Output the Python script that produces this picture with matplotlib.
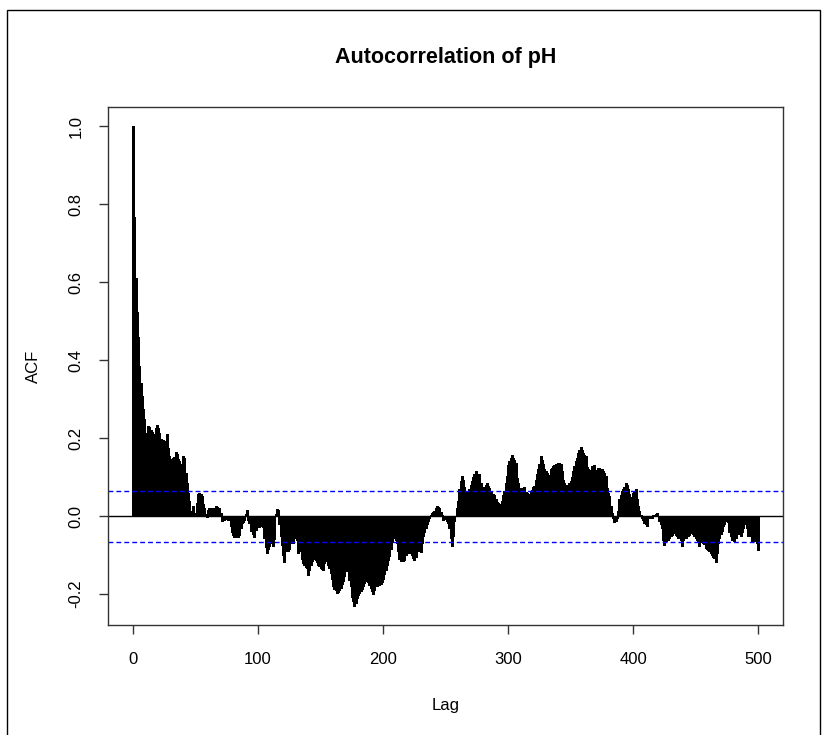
import numpy as np
import matplotlib
matplotlib.use("Agg")
import matplotlib.pyplot as plt
from matplotlib.patches import Rectangle

plt.rcParams['font.family'] = ['Liberation Sans', 'DejaVu Sans']

# ACF of pH, lags 0..500
acf_vals = [
    1.000, 0.766, 0.610, 0.523, 0.460, 0.384, 0.342, 0.307, 0.275, 0.248,
    0.212, 0.208, 0.231, 0.229, 0.222, 0.217, 0.201, 0.210, 0.225, 0.234,
    0.226, 0.212, 0.199, 0.196, 0.196, 0.192, 0.184, 0.210, 0.176, 0.154,
    0.146, 0.146, 0.150, 0.152, 0.165, 0.159, 0.146, 0.142, 0.133, 0.129,
    0.154, 0.150, 0.111, 0.086, 0.060, 0.039, 0.013, 0.000, 0.026, 0.004,
    0.008, 0.034, 0.056, 0.060, 0.058, 0.051, 0.030, 0.020, 0.005, -0.002,
    0.015, 0.020, 0.020, 0.018, 0.010, 0.022, 0.027, 0.024, 0.018, 0.020,
    0.008, -0.013, -0.006, -0.010, -0.004, -0.008, -0.009, -0.004, -0.026, -0.040,
    -0.047, -0.053, -0.053, -0.052, -0.053, -0.047, -0.030, -0.017, -0.015, -0.010,
    0.005, 0.015, -0.010, -0.017, -0.039, -0.030, -0.045, -0.053, -0.035, -0.028,
    -0.025, -0.028, -0.026, -0.022, -0.028, -0.055, -0.080, -0.094, -0.085, -0.077,
    -0.070, -0.060, -0.077, -0.058, 0.005, 0.019, 0.015, -0.020, -0.050, -0.075,
    -0.100, -0.118, -0.090, -0.082, -0.090, -0.085, -0.070, -0.065, -0.070, -0.051,
    -0.055, -0.060, -0.095, -0.081, -0.090, -0.110, -0.120, -0.125, -0.130, -0.133,
    -0.150, -0.138, -0.124, -0.115, -0.108, -0.110, -0.113, -0.118, -0.125, -0.129,
    -0.133, -0.135, -0.137, -0.120, -0.107, -0.115, -0.124, -0.133, -0.146, -0.160,
    -0.180, -0.186, -0.190, -0.197, -0.194, -0.190, -0.184, -0.175, -0.165, -0.154,
    -0.140, -0.120, -0.140, -0.163, -0.180, -0.206, -0.218, -0.231, -0.222, -0.210,
    -0.203, -0.197, -0.193, -0.186, -0.178, -0.171, -0.166, -0.163, -0.168, -0.176,
    -0.185, -0.193, -0.199, -0.190, -0.180, -0.178, -0.177, -0.176, -0.173, -0.170,
    -0.160, -0.148, -0.137, -0.125, -0.113, -0.103, -0.085, -0.066, -0.047, -0.055,
    -0.062, -0.069, -0.090, -0.111, -0.116, -0.115, -0.116, -0.112, -0.100, -0.090,
    -0.092, -0.094, -0.094, -0.100, -0.106, -0.113, -0.105, -0.085, -0.088, -0.090,
    -0.091, -0.070, -0.051, -0.040, -0.030, -0.021, -0.012, -0.004, 0.003, 0.009,
    0.011, 0.013, 0.020, 0.027, 0.024, 0.021, 0.010, 0.004, -0.009, -0.008,
    -0.006, -0.012, -0.017, -0.030, -0.055, -0.077, -0.051, -0.013, 0.000, 0.020,
    0.039, 0.069, 0.090, 0.103, 0.094, 0.075, 0.064, 0.051, 0.060, 0.069,
    0.080, 0.090, 0.100, 0.107, 0.116, 0.100, 0.105, 0.107, 0.085, 0.069,
    0.072, 0.075, 0.080, 0.084, 0.078, 0.073, 0.065, 0.056, 0.056, 0.054,
    0.043, 0.036, 0.034, 0.030, 0.026, 0.040, 0.055, 0.064, 0.085, 0.103,
    0.130, 0.141, 0.150, 0.156, 0.150, 0.143, 0.137, 0.099, 0.085, 0.073,
    0.071, 0.069, 0.072, 0.075, 0.062, 0.060, 0.056, 0.058, 0.062, 0.068,
    0.075, 0.077, 0.092, 0.107, 0.120, 0.133, 0.153, 0.145, 0.133, 0.122,
    0.115, 0.111, 0.094, 0.105, 0.120, 0.124, 0.129, 0.131, 0.133, 0.135,
    0.137, 0.136, 0.133, 0.115, 0.094, 0.085, 0.081, 0.079, 0.078, 0.084,
    0.090, 0.100, 0.116, 0.128, 0.141, 0.150, 0.163, 0.170, 0.177, 0.170,
    0.163, 0.158, 0.153, 0.125, 0.120, 0.116, 0.118, 0.129, 0.124, 0.132,
    0.118, 0.116, 0.124, 0.124, 0.120, 0.120, 0.115, 0.111, 0.103, 0.073,
    0.060, 0.051, 0.026, 0.009, -0.004, -0.015, -0.012, -0.005, 0.013, 0.045,
    0.055, 0.064, 0.070, 0.075, 0.086, 0.080, 0.070, 0.056, 0.050, 0.043,
    0.060, 0.064, 0.070, 0.045, 0.026, 0.013, 0.002, -0.005, -0.010, -0.017,
    -0.020, -0.024, -0.005, -0.004, -0.004, -0.004, 0.004, 0.000, 0.005, 0.009,
    0.000, -0.013, -0.020, -0.030, -0.060, -0.075, -0.064, -0.062, -0.060, -0.056,
    -0.050, -0.047, -0.039, -0.042, -0.047, -0.052, -0.056, -0.052, -0.060, -0.077,
    -0.060, -0.052, -0.056, -0.052, -0.050, -0.047, -0.043, -0.040, -0.046, -0.052,
    -0.056, -0.060, -0.066, -0.077, -0.064, -0.066, -0.069, -0.072, -0.081, -0.085,
    -0.088, -0.090, -0.095, -0.100, -0.105, -0.107, -0.118, -0.095, -0.069, -0.055,
    -0.045, -0.039, -0.025, -0.021, -0.009, -0.012, -0.015, -0.040, -0.050, -0.060,
    -0.062, -0.064, -0.055, -0.045, -0.034, -0.045, -0.052, -0.040, -0.030, -0.009,
    -0.020, -0.030, -0.052, -0.038, -0.050, -0.064, -0.064, -0.055, -0.064, -0.070,
    -0.086,
]
lags = np.arange(len(acf_vals))
conf_level = 0.0655   # 1.96/sqrt(n)

x_ticks = [0, 100, 200, 300, 400, 500]
y_ticks = [-0.2, 0.0, 0.2, 0.4, 0.6, 0.8, 1.0]

fig = plt.figure(figsize=(8.22, 7.35), dpi=100)
ax = fig.add_axes([108/822, 1-625/735, (783-108)/822, (625-107)/735])

ax.vlines(lags, 0, acf_vals, color='black', linewidth=0.95, antialiased=False)
ax.axhline(0, color='black', linewidth=1.0)
for c in (conf_level, -conf_level):
    ax.axhline(c, color='#0000ff', linewidth=1.0, dashes=(3.5, 2.2))

ax.set_xlim(-20, 520)
ax.set_ylim(-0.279, 1.049)
ax.set_xticks(x_ticks)
ax.set_yticks(y_ticks)
ax.set_xticklabels([str(t) for t in x_ticks])
ax.set_yticklabels(['%.1f' % t for t in y_ticks], rotation=90, va='center')
ax.tick_params(direction='out', length=6.5, width=1.0, labelsize=12, color='#333333')
ax.tick_params(axis='x', pad=13)
ax.tick_params(axis='y', pad=11)
for s in ax.spines.values():
    s.set_linewidth(1.0)
    s.set_color('#333333')

ax.set_title('Autocorrelation of pH', fontsize=15.5, fontweight='bold', pad=32)
ax.set_xlabel('Lag', fontsize=12, labelpad=22)
ax.set_ylabel('ACF', fontsize=12, labelpad=20)

# outer frame of the exported image
fig.patches.append(Rectangle((7/822, -0.1), (820-7)/822, 1.1 - 10/735,
                             transform=fig.transFigure, fill=False,
                             edgecolor='black', linewidth=1.0))

fig.savefig('out.png', dpi=100)
